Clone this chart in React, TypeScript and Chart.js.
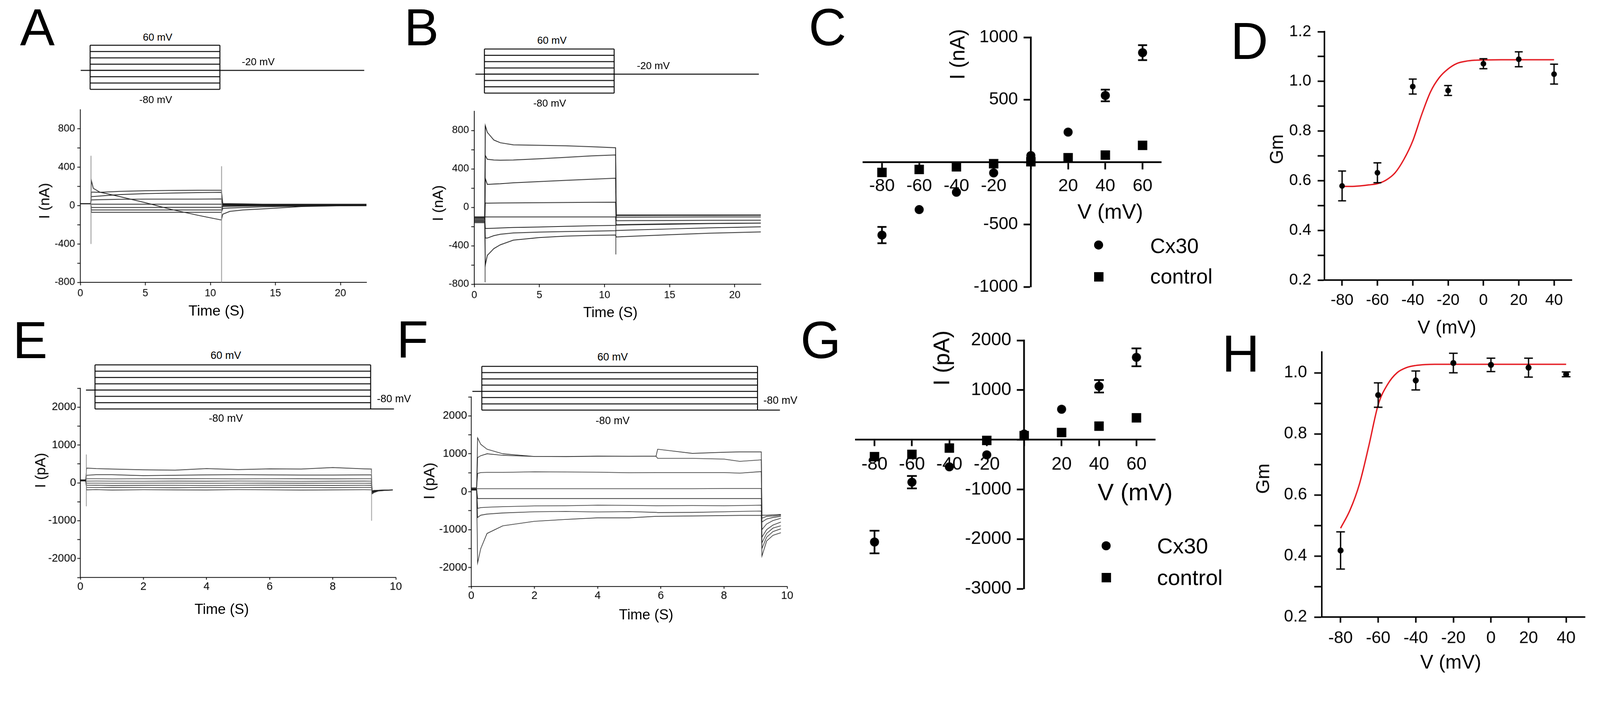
import React, { useEffect, useRef } from "react";
import { Chart, registerables } from "chart.js";

Chart.register(...registerables);

const FONT = '"Liberation Sans", Arial, Helvetica, sans-serif';
const INK = "#000000";
const TRACE = "#1c1c1c";
const GREY = "#8c8c8c";
const RED = "#e3141b";
const PAGE_W = 4244;
const PAGE_H = 1818;

// ======================= DATA =======================
// ---- A : current traces (nA) vs time (s)
const A_TIME = [0, 0.8, 0.85, 1, 1.5, 3, 5, 7, 9, 10.85, 10.95, 11.5, 12.5, 14, 17, 22];
const A_TRACE_1 = [20, 20, 140, 140, 138, 148, 155, 158, 160, 160, 20, 20, 18, 15, 15, 15];
const A_TRACE_2 = [20, 20, 95, 95, 100, 115, 125, 130, 135, 138, 15, 15, 15, 12, 12, 12];
const A_TRACE_3 = [20, 20, 60, 60, 62, 66, 68, 68, 68, 70, 10, 10, 10, 10, 10, 10];
const A_TRACE_4 = [20, 20, 15, 15, 15, 15, 15, 15, 15, 15, 5, 5, 5, 5, 5, 5];
const A_TRACE_5 = [20, 20, -20, -20, -20, -20, -20, -18, -18, -18, 0, 0, 0, 0, 0, 0];
const A_TRACE_6 = [20, 20, -45, -45, -45, -45, -45, -45, -45, -45, -10, -8, -5, -2, 0, 0];
const A_TRACE_7 = [20, 20, -70, -70, -70, -70, -70, -70, -70, -70, -30, -25, -20, -12, -5, 0];
const A_TRACE_8 = [20, 20, 260, 180, 140, 95, 30, -40, -100, -150, -90, -60, -45, -35, -10, 5];
const A_SPIKE_T = [0.82, 10.86];
const A_SPIKE_TOP = [520, 410];
const A_SPIKE_BOTTOM = [-400, -800];
const A_X_TICKS = [0, 5, 10, 15, 20];
const A_Y_TICKS = [-800, -600, -400, -200, 0, 200, 400, 600, 800];

// ---- B : current traces (nA) vs time (s)
const B_TIME = [0, 0.8, 0.85, 1, 1.5, 2, 3, 5, 7, 9, 10.85, 10.9, 12, 15, 18, 22];
const B_TRACE_1 = [-100, -100, 850, 780, 700, 672, 650, 645, 640, 630, 620, -79, -79, -79, -79, -79];
const B_TRACE_2 = [-110, -110, 540, 500, 492, 490, 492, 505, 520, 535, 545, -85, -85, -84, -84, -83];
const B_TRACE_3 = [-120, -120, 300, 238, 242, 245, 255, 268, 280, 292, 303, -102, -102, -101, -100, -100];
const B_TRACE_4 = [-130, -130, 45, 43, 44, 45, 46, 48, 50, 52, 53, -139, -138, -137, -135, -134];
const B_TRACE_5 = [-100, -100, -100, -100, -100, -100, -100, -100, -100, -100, -100, -181, -178, -172, -168, -164];
const B_TRACE_6 = [-140, -140, -220, -220, -218, -215, -210, -205, -198, -192, -188, -185, -182, -176, -170, -165];
const B_TRACE_7 = [-150, -150, -320, -320, -295, -280, -267, -258, -252, -248, -243, -241, -236, -225, -214, -203];
const B_TRACE_8 = [-160, -160, -600, -500, -430, -390, -341, -315, -300, -292, -288, -309, -302, -285, -270, -256];
const B_SPIKE_T = [0.83, 10.87];
const B_SPIKE_TOP = [850, 170];
const B_SPIKE_BOTTOM = [-780, -490];

// ---- protocols (mV levels)
const PROTO_LEVELS = [60, 40, 20, 0, -20, -40, -60, -80];
const PROTO_A_STEP = [0.754, 10.73];
const PROTO_A_HOLD = [0.03, 21.83];
const PROTO_B_STEP = [0.78, 10.74];
const PROTO_B_HOLD = [0.09, 21.85];
const PROTO_E_STEP = [0.466, 9.2];
const PROTO_E_HOLD = [0.18, 0.466];
const PROTO_E_POST = [9.2, 9.94];
const PROTO_F_STEP = [0.334, 9.06];
const PROTO_F_HOLD = [0.036, 0.334];
const PROTO_F_POST = [9.06, 9.77];
const PROTO_HOLD_MV = -20;
const PROTO_POST_MV = -80;

// ---- C : I-V (nA)
const C_V = [-80, -60, -40, -20, 0, 20, 40, 60];
const C_CX30 = [-585, -381, -242, -87, 52, 240, 534, 877];
const C_CX30_ERR = [65, 0, 0, 0, 0, 0, 47, 60];
const C_CONTROL = [-83, -59, -38, -13, 3, 35, 56, 134];
const C_X_TICKS = [-80, -60, -40, -20, 0, 20, 40, 60];
const C_Y_TICKS = [-1000, -500, 0, 500, 1000];

// ---- D : Gm vs V
const D_V = [-80, -60, -40, -20, 0, 20, 40];
const D_GM = [0.579, 0.632, 0.979, 0.963, 1.071, 1.089, 1.029];
const D_ERR = [0.06, 0.04, 0.03, 0.02, 0.02, 0.03, 0.04];
const D_FIT_V = [-80, -75, -70, -65, -60, -55, -50, -45, -40, -35, -30, -25, -20, -15, -10, -5, 0, 10, 20, 30, 40];
const D_FIT_GM = [0.577, 0.577, 0.579, 0.583, 0.588, 0.603, 0.632, 0.686, 0.76, 0.865, 0.957, 1.015, 1.05, 1.072, 1.081, 1.085, 1.086, 1.087, 1.087, 1.087, 1.087];
const D_X_TICKS = [-80, -60, -40, -20, 0, 20, 40];
const D_Y_TICKS = [0.2, 0.3, 0.4, 0.5, 0.6, 0.7, 0.8, 0.9, 1.0, 1.1, 1.2];

// ---- E : current traces (pA) vs time (s)
const E_TIME = [0, 0.17, 0.2, 0.5, 1, 2, 3, 4, 5, 6, 7, 8, 9, 9.22, 9.25, 9.3, 9.45, 9.65, 9.9];
const E_TRACE_1 = [80, 80, 390, 377, 365, 345, 335, 377, 350, 370, 365, 405, 370, 365, -290, -260, -215, -200, -190];
const E_TRACE_2 = [80, 80, 200, 215, 215, 190, 200, 210, 215, 210, 205, 205, 210, 210, -270, -245, -210, -198, -190];
const E_TRACE_3 = [70, 70, 110, 110, 105, 110, 108, 112, 105, 110, 108, 106, 110, 110, -250, -230, -205, -195, -188];
const E_TRACE_4 = [70, 70, 45, 48, 45, 42, 46, 44, 48, 45, 40, 44, 46, 45, -240, -222, -202, -193, -188];
const E_TRACE_5 = [60, 60, -10, -8, -12, -10, -8, -12, -10, -9, -11, -10, -12, -10, -230, -215, -200, -192, -187];
const E_TRACE_6 = [60, 60, -65, -62, -68, -66, -64, -70, -65, -62, -66, -68, -65, -66, -220, -210, -198, -190, -186];
const E_TRACE_7 = [50, 50, -120, -125, -118, -122, -128, -120, -124, -118, -122, -126, -120, -122, -215, -205, -196, -190, -186];
const E_TRACE_8 = [50, 50, -185, -180, -190, -182, -186, -188, -180, -184, -190, -186, -182, -185, -210, -200, -195, -190, -185];
const E_SPIKE_T = [0.19, 9.23];
const E_SPIKE_TOP = [750, 380];
const E_SPIKE_BOTTOM = [-620, -1000];
const EF_X_TICKS = [0, 2, 4, 6, 8, 10];
const EF_Y_TICKS = [-2500, -2000, -1500, -1000, -500, 0, 500, 1000, 1500, 2000, 2500];

// ---- F : current traces (pA) vs time (s)
const F_TIME = [0, 0.17, 0.2, 0.3, 0.5, 1, 2, 3, 4, 5, 5.85, 5.9, 7, 8, 8.5, 9.18, 9.2, 9.35, 9.55, 9.8];
const F_TRACE_1 = [100, 100, 1420, 1250, 1120, 1000, 930, 930, 940, 935, 940, 1120, 1010, 1040, 1050, 1050, -620, -620, -610, -600];
const F_TRACE_2 = [100, 100, 900, 950, 1000, 960, 930, 925, 935, 935, 935, 880, 880, 860, 800, 840, -700, -650, -640, -620];
const F_TRACE_3 = [100, 100, 480, 505, 510, 510, 525, 520, 515, 500, 505, 505, 505, 505, 490, 530, -800, -720, -680, -650];
const F_TRACE_4 = [80, 80, 80, 80, 80, 80, 80, 80, 80, 80, 80, 80, 80, 85, 85, 85, -1000, -850, -760, -700];
const F_TRACE_5 = [70, 70, -180, -180, -180, -180, -180, -180, -180, -180, -180, -180, -180, -180, -180, -180, -1200, -1000, -880, -800];
const F_TRACE_6 = [60, 60, -440, -420, -410, -395, -375, -370, -355, -360, -370, -370, -365, -370, -365, -355, -1350, -1100, -960, -900];
const F_TRACE_7 = [50, 50, -680, -620, -590, -560, -530, -520, -535, -525, -545, -550, -545, -530, -520, -510, -1500, -1200, -1050, -980];
const F_TRACE_8 = [40, 40, -1880, -1500, -1100, -900, -780, -730, -690, -690, -650, -650, -640, -630, -625, -625, -1700, -1300, -1150, -1080];

// ---- G : I-V (pA)
const G_V = [-80, -60, -40, -20, 0, 20, 40, 60];
const G_CX30 = [-2059, -855, -545, -305, 114, 614, 1077, 1659];
const G_CX30_ERR = [227, 125, 0, 0, 0, 0, 125, 180];
const G_CONTROL = [-341, -295, -168, -14, 82, 145, 273, 441];
const G_Y_TICKS = [-3000, -2000, -1000, 0, 1000, 2000];

// ---- H : Gm vs V
const H_V = [-80, -60, -40, -20, 0, 20, 40];
const H_GM = [0.418, 0.927, 0.975, 1.032, 1.026, 1.017, 0.995];
const H_ERR = [0.061, 0.04, 0.031, 0.032, 0.022, 0.031, 0.008];
const H_FIT_V = [-80, -75, -70, -65, -60, -55, -50, -45, -40, -35, -30, -20, -10, 0, 20, 40];
const H_FIT_GM = [0.491, 0.55, 0.635, 0.76, 0.895, 0.962, 1.0, 1.017, 1.024, 1.027, 1.028, 1.028, 1.028, 1.028, 1.028, 1.028];
const H_Y_TICKS = [0.2, 0.3, 0.4, 0.5, 0.6, 0.7, 0.8, 0.9, 1.0];

// ======================= LAYOUT =======================
type Area = { L: number; T: number; R: number; B: number };
type Box = { left: number; top: number; width: number; height: number };

const A_AREA: Area = { L: 213, T: 291, R: 972, B: 749 };
const A_PROTO: Area = { L: 213, T: 120, R: 972, B: 237 };
const B_AREA: Area = { L: 1258, T: 295, R: 2018, B: 754 };
const B_PROTO: Area = { L: 1258, T: 130, R: 2018, B: 247 };
const C_AREA: Area = { L: 2290, T: 99, R: 3080, B: 761 };
const D_AREA: Area = { L: 3513, T: 84, R: 4169, B: 743 };
const E_AREA: Area = { L: 213, T: 1030, R: 1050, B: 1532 };
const E_PROTO: Area = { L: 213, T: 968, R: 1050, B: 1085 };
const F_AREA: Area = { L: 1250, T: 1053, R: 2088, B: 1556 };
const F_PROTO: Area = { L: 1250, T: 972, R: 2088, B: 1088 };
const G_AREA: Area = { L: 2270, T: 903, R: 3064, B: 1562 };
const H_AREA: Area = { L: 3506, T: 934, R: 4204, B: 1637 };

function boxOf(a: Area, pl: number, pt: number, pr: number, pb: number): Box {
  return { left: a.L - pl, top: a.T - pt, width: a.R - a.L + pl + pr, height: a.B - a.T + pt + pb };
}

type AxisSpec = {
  min: number; max: number; ticks: number[]; label: (v: number) => string;
  font: number; tl: number; pad: number; lw: number; pos?: any; hideLabels?: boolean;
};

function axis(s: AxisSpec, horizontal: boolean, fixed?: number) {
  const o: any = {
    type: "linear",
    min: s.min,
    max: s.max,
    bounds: "data",
    position: s.pos ?? (horizontal ? "bottom" : "left"),
    afterBuildTicks: (sc: any) => { sc.ticks = s.ticks.map((v) => ({ value: v })); },
    ticks: {
      display: !s.hideLabels,
      autoSkip: false, maxRotation: 0, minRotation: 0, padding: s.pad, color: INK,
      font: { family: FONT, size: s.font }, callback: (v: number) => s.label(v),
    },
    grid: { display: true, drawOnChartArea: false, drawTicks: true, tickLength: s.tl, tickWidth: s.lw, tickColor: INK, color: INK },
    border: { display: true, color: INK, width: s.lw },
  };
  if (fixed !== undefined) {
    o.afterFit = horizontal ? (sc: any) => { sc.height = fixed; } : (sc: any) => { sc.width = fixed; };
  }
  return o;
}

const baseOptions = (padding: any) => ({
  responsive: false,
  animation: false,
  events: [],
  layout: { padding },
  plugins: { legend: { display: false }, tooltip: { enabled: false }, title: { display: false } },
});

const seg = (x0: number, y0: number, x1: number, y1: number, color: string, w: number) => ({
  data: [{ x: x0, y: y0 }, { x: x1, y: y1 }],
  showLine: true, borderColor: color, borderWidth: w, pointRadius: 0, clip: false,
});

function traceSets(time: number[], traces: number[][], color: string, w: number) {
  return traces.map((vals) => ({
    data: time.map((t, i) => ({ x: t, y: vals[i] })),
    showLine: true, borderColor: color, borderWidth: w, pointRadius: 0, tension: 0,
  }));
}

function spikeSets(ts: number[], tops: number[], bottoms: number[], color: string, w: number) {
  return ts.map((t, i) => seg(t, tops[i], t, bottoms[i], color, w));
}

function makeErrorBars(xs: number[], ys: number[], err: number[], cap: number, w: number) {
  return {
    id: "errorBars",
    afterDatasetsDraw(chart: any) {
      const { ctx } = chart;
      const sx = chart.scales.x;
      const sy = chart.scales.y;
      ctx.save();
      ctx.strokeStyle = INK;
      ctx.lineWidth = w;
      xs.forEach((xv, i) => {
        const e = err[i];
        if (!e) return;
        const px = sx.getPixelForValue(xv);
        const p1 = sy.getPixelForValue(ys[i] + e);
        const p2 = sy.getPixelForValue(ys[i] - e);
        ctx.beginPath();
        ctx.moveTo(px, p1); ctx.lineTo(px, p2);
        ctx.moveTo(px - cap / 2, p1); ctx.lineTo(px + cap / 2, p1);
        ctx.moveTo(px - cap / 2, p2); ctx.lineTo(px + cap / 2, p2);
        ctx.stroke();
      });
      ctx.restore();
    },
  };
}

// y tick labels for an axis crossing at x = 0 (drawn left of the tick marks)
function makeCrossYLabels(s: AxisSpec) {
  return {
    id: "crossYLabels",
    afterDraw(chart: any) {
      const { ctx } = chart;
      const sx = chart.scales.x;
      const sy = chart.scales.y;
      const x0 = sx.getPixelForValue(0) - s.lw / 2 - s.tl - s.pad;
      ctx.save();
      ctx.fillStyle = INK;
      ctx.font = `${s.font}px ${FONT}`;
      ctx.textAlign = "right";
      ctx.textBaseline = "middle";
      s.ticks.forEach((v) => {
        const t = s.label(v);
        if (t) ctx.fillText(t, x0, sy.getPixelForValue(v));
      });
      ctx.restore();
    },
  };
}

const hiddenScale = (min: number, max: number) => ({ type: "linear", display: false, min, max, bounds: "data" });

// ======================= CONFIG BUILDERS =======================
const STD_YW = 130;
const STD_XH = 100;
const STD_PT = 40;
const STD_PR = 40;

function traceConfig(xs: AxisSpec, ys: AxisSpec, datasets: any[]) {
  return {
    type: "scatter",
    data: { datasets },
    options: {
      ...baseOptions({ left: 0, top: STD_PT, right: STD_PR, bottom: 0 }),
      scales: { x: axis(xs, true, STD_XH), y: axis(ys, false, STD_YW) },
    },
  };
}

function protoConfig(xmax: number, step: number[], hold: number[], holdMv: number, post?: number[], postMv?: number) {
  const top = Math.max(...PROTO_LEVELS);
  const bot = Math.min(...PROTO_LEVELS);
  const W = 2.5;
  const ds: any[] = PROTO_LEVELS.map((v) => seg(step[0], v, step[1], v, INK, W));
  ds.push(seg(step[0], top, step[0], bot, INK, W));
  ds.push(seg(step[1], top, step[1], bot, INK, W));
  ds.push(seg(hold[0], holdMv, hold[1], holdMv, INK, W));
  if (post && postMv !== undefined) ds.push(seg(post[0], postMv, post[1], postMv, INK, W));
  return {
    type: "scatter",
    data: { datasets: ds },
    options: {
      ...baseOptions(6),
      scales: { x: hiddenScale(0, xmax), y: hiddenScale(bot, top) },
    },
  };
}

const lbl = (v: number) => String(v);
const everyN = (n: number) => (v: number) => (Math.round(v) % n === 0 ? String(v) : "");
const noZero = (v: number) => (v === 0 ? "" : String(v));
const evenTenth = (v: number) => (Math.round(v * 10) % 2 === 0 ? v.toFixed(1) : "");

function ivConfig(xs: AxisSpec, ys: AxisSpec, v: number[], cx: number[], err: number[], ctl: number[], cap: number) {
  return {
    type: "scatter",
    data: {
      datasets: [
        { data: v.map((x, i) => ({ x, y: cx[i] })), pointStyle: "circle", pointRadius: 12, backgroundColor: INK, borderColor: INK, borderWidth: 0 },
        { data: v.map((x, i) => ({ x, y: ctl[i] })), pointStyle: "rect", pointRadius: 17.7, backgroundColor: INK, borderColor: INK, borderWidth: 0 },
      ],
    },
    options: {
      ...baseOptions(50),
      scales: { x: axis(xs, true), y: axis(ys, false) },
    },
    plugins: [makeErrorBars(v, cx, err, cap, 4.5), makeCrossYLabels(ys)],
  };
}

function gmConfig(xs: AxisSpec, ys: AxisSpec, v: number[], gm: number[], err: number[], fv: number[], fg: number[], r: number, cap: number) {
  return {
    type: "scatter",
    data: {
      datasets: [
        { data: v.map((x, i) => ({ x, y: gm[i] })), pointStyle: "circle", pointRadius: r, backgroundColor: INK, borderColor: INK, borderWidth: 0 },
        { data: fv.map((x, i) => ({ x, y: fg[i] })), showLine: true, pointRadius: 0, borderColor: RED, borderWidth: 3.5, cubicInterpolationMode: "monotone" },
      ],
    },
    options: {
      ...baseOptions({ left: 0, top: 60, right: 40, bottom: 0 }),
      scales: { x: axis(xs, true, STD_XH), y: axis(ys, false, 150) },
    },
    plugins: [makeErrorBars(v, gm, err, cap, 3.5)],
  };
}

// ======================= COMPONENTS =======================
function ChartCanvas({ b, build }: { b: Box; build: () => any }) {
  const ref = useRef<HTMLCanvasElement | null>(null);
  useEffect(() => {
    if (!ref.current) return;
    const chart = new Chart(ref.current, build());
    return () => chart.destroy();
  }, []);
  return (
    <canvas
      ref={ref}
      width={b.width}
      height={b.height}
      style={{ position: "absolute", left: b.left, top: b.top, width: b.width, height: b.height }}
    />
  );
}

function Txt({ x, y, s, t, rot, left }: { x: number; y: number; s: number; t: string; rot?: boolean; left?: boolean }) {
  return (
    <div
      style={{
        position: "absolute", left: x, top: y,
        transform: `translate(${left ? "0" : "-50%"},-50%)${rot ? " rotate(-90deg)" : ""}`,
        fontFamily: FONT, fontSize: s, lineHeight: 1, whiteSpace: "nowrap", color: INK,
      }}
    >
      {t}
    </div>
  );
}

function Mark({ x, y, size, round }: { x: number; y: number; size: number; round?: boolean }) {
  return (
    <div
      style={{
        position: "absolute", left: x - size / 2, top: y - size / 2, width: size, height: size,
        background: INK, borderRadius: round ? "50%" : 0,
      }}
    />
  );
}

// axis specs
const AB_X: AxisSpec = { min: 0, max: 22, ticks: A_X_TICKS, label: lbl, font: 27, tl: 8, pad: 5, lw: 2 };
const AB_Y: AxisSpec = { min: -800, max: 1000, ticks: A_Y_TICKS, label: everyN(400), font: 27, tl: 8, pad: 6, lw: 2 };
const EF_X: AxisSpec = { min: 0, max: 10, ticks: EF_X_TICKS, label: lbl, font: 29, tl: 6, pad: 2, lw: 2 };
const EF_Y: AxisSpec = { min: -2500, max: 2500, ticks: EF_Y_TICKS, label: everyN(1000), font: 29, tl: 8, pad: 3, lw: 2 };
const C_X: AxisSpec = { min: -90, max: 70, ticks: C_X_TICKS, label: noZero, font: 47, tl: 17, pad: 19, lw: 4.5, pos: { y: 0 } };
const C_Y: AxisSpec = { min: -1000, max: 1000, ticks: C_Y_TICKS, label: noZero, font: 46, tl: 17, pad: 15, lw: 4.5, pos: { x: 0 }, hideLabels: true };
const G_X: AxisSpec = { min: -90, max: 70, ticks: C_X_TICKS, label: noZero, font: 48, tl: 15, pad: 22, lw: 4.5, pos: { y: 0 } };
const G_Y: AxisSpec = { min: -3000, max: 2000, ticks: G_Y_TICKS, label: noZero, font: 48, tl: 17, pad: 15, lw: 4.5, pos: { x: 0 }, hideLabels: true };
const D_X: AxisSpec = { min: -90, max: 50, ticks: D_X_TICKS, label: lbl, font: 42, tl: 15, pad: 14, lw: 4 };
const D_Y: AxisSpec = { min: 0.2, max: 1.2, ticks: D_Y_TICKS, label: evenTenth, font: 42, tl: 18, pad: 17, lw: 4 };
const H_X: AxisSpec = { min: -90, max: 50, ticks: D_X_TICKS, label: lbl, font: 45, tl: 15, pad: 15, lw: 4 };
const H_Y: AxisSpec = { min: 0.2, max: 1.068, ticks: H_Y_TICKS, label: evenTenth, font: 44, tl: 20, pad: 19, lw: 4 };

const stdBox = (a: Area) => boxOf(a, STD_YW, STD_PT, STD_PR, STD_XH);
const protoBox = (a: Area) => boxOf(a, 6, 6, 6, 6);
const ivBox = (a: Area) => boxOf(a, 50, 50, 50, 50);
const gmBox = (a: Area) => boxOf(a, 150, 60, 40, STD_XH);

export default function App() {
  const vw = typeof window !== "undefined" ? (document.documentElement.clientWidth || window.innerWidth || PAGE_W) : PAGE_W;
  const scale = vw / PAGE_W;

  const charts: { b: Box; build: () => any }[] = [
    // A
    { b: protoBox(A_PROTO), build: () => protoConfig(22, PROTO_A_STEP, PROTO_A_HOLD, PROTO_HOLD_MV) },
    {
      b: stdBox(A_AREA),
      build: () => traceConfig(AB_X, AB_Y, [
        ...spikeSets(A_SPIKE_T, A_SPIKE_TOP, A_SPIKE_BOTTOM, GREY, 2),
        ...traceSets(A_TIME, [A_TRACE_1, A_TRACE_2, A_TRACE_3, A_TRACE_4, A_TRACE_5, A_TRACE_6, A_TRACE_7, A_TRACE_8], TRACE, 2),
      ]),
    },
    // B
    { b: protoBox(B_PROTO), build: () => protoConfig(22, PROTO_B_STEP, PROTO_B_HOLD, PROTO_HOLD_MV) },
    {
      b: stdBox(B_AREA),
      build: () => traceConfig(AB_X, AB_Y, [
        ...spikeSets(B_SPIKE_T, B_SPIKE_TOP, B_SPIKE_BOTTOM, TRACE, 1.6),
        ...traceSets(B_TIME, [B_TRACE_1, B_TRACE_2, B_TRACE_3, B_TRACE_4, B_TRACE_5, B_TRACE_6, B_TRACE_7, B_TRACE_8], TRACE, 2),
      ]),
    },
    // C
    { b: ivBox(C_AREA), build: () => ivConfig(C_X, C_Y, C_V, C_CX30, C_CX30_ERR, C_CONTROL, 24) },
    // D
    { b: gmBox(D_AREA), build: () => gmConfig(D_X, D_Y, D_V, D_GM, D_ERR, D_FIT_V, D_FIT_GM, 7.5, 21) },
    // E
    { b: protoBox(E_PROTO), build: () => protoConfig(10, PROTO_E_STEP, PROTO_E_HOLD, PROTO_HOLD_MV, PROTO_E_POST, PROTO_POST_MV) },
    {
      b: stdBox(E_AREA),
      build: () => traceConfig(EF_X, EF_Y, [
        ...spikeSets(E_SPIKE_T, E_SPIKE_TOP, E_SPIKE_BOTTOM, GREY, 1.8),
        ...traceSets(E_TIME, [E_TRACE_1, E_TRACE_2, E_TRACE_3, E_TRACE_4, E_TRACE_5, E_TRACE_6, E_TRACE_7, E_TRACE_8], TRACE, 1.6),
      ]),
    },
    // F
    { b: protoBox(F_PROTO), build: () => protoConfig(10, PROTO_F_STEP, PROTO_F_HOLD, PROTO_HOLD_MV, PROTO_F_POST, PROTO_POST_MV) },
    {
      b: stdBox(F_AREA),
      build: () => traceConfig(EF_X, EF_Y,
        traceSets(F_TIME, [F_TRACE_1, F_TRACE_2, F_TRACE_3, F_TRACE_4, F_TRACE_5, F_TRACE_6, F_TRACE_7, F_TRACE_8], TRACE, 1.6)),
    },
    // G
    { b: ivBox(G_AREA), build: () => ivConfig(G_X, G_Y, G_V, G_CX30, G_CX30_ERR, G_CONTROL, 26) },
    // H
    { b: gmBox(H_AREA), build: () => gmConfig(H_X, H_Y, H_V, H_GM, H_ERR, H_FIT_V, H_FIT_GM, 8, 23) },
  ];

  return (
    <div
      style={{
        position: "absolute", left: 0, top: 0, width: PAGE_W, height: PAGE_H, background: "#fff",
        overflow: "hidden", transform: `scale(${scale})`, transformOrigin: "0 0",
      }}
    >
      {charts.map((c, i) => (
        <ChartCanvas key={i} b={c.b} build={c.build} />
      ))}

      {/* panel letters */}
      <Txt x={99} y={72} s={138} t="A" />
      <Txt x={1118} y={72} s={138} t="B" />
      <Txt x={2195} y={72} s={138} t="C" />
      <Txt x={3314} y={108} s={138} t="D" />
      <Txt x={80} y={902} s={138} t="E" />
      <Txt x={1094} y={900} s={138} t="F" />
      <Txt x={2177} y={902} s={138} t="G" />
      <Txt x={3291} y={938} s={138} t="H" />

      {/* protocol labels */}
      <Txt x={418} y={99} s={27} t="60 mV" />
      <Txt x={413} y={265} s={27} t="-80 mV" />
      <Txt x={685} y={165} s={27} t="-20 mV" />
      <Txt x={1464} y={108} s={27} t="60 mV" />
      <Txt x={1458} y={274} s={27} t="-80 mV" />
      <Txt x={1733} y={175} s={27} t="-20 mV" />
      <Txt x={599} y={943} s={28} t="60 mV" />
      <Txt x={599} y={1110} s={28} t="-80 mV" />
      <Txt x={1045} y={1058} s={28} t="-80 mV" />
      <Txt x={1625} y={947} s={28} t="60 mV" />
      <Txt x={1625} y={1116} s={28} t="-80 mV" />
      <Txt x={2070} y={1062} s={28} t="-80 mV" />

      {/* axis titles */}
      <Txt x={574} y={824} s={39} t="Time (S)" />
      <Txt x={117} y={533} s={39} t="I (nA)" rot />
      <Txt x={1619} y={828} s={38} t="Time (S)" />
      <Txt x={1161} y={539} s={39} t="I (nA)" rot />
      <Txt x={2540} y={144} s={55} t="I (nA)" rot />
      <Txt x={2945} y={561} s={56} t="V (mV)" />
      <Txt x={3387} y={396} s={49} t="Gm" rot />
      <Txt x={3838} y={868} s={50} t="V (mV)" />
      <Txt x={588} y={1616} s={38} t="Time (S)" />
      <Txt x={107} y={1248} s={38} t="I (pA)" rot />
      <Txt x={1714} y={1630} s={38} t="Time (S)" />
      <Txt x={1138} y={1276} s={40} t="I (pA)" rot />
      <Txt x={2498} y={950} s={60} t="I (pA)" rot />
      <Txt x={3011} y={1305} s={64} t="V (mV)" />
      <Txt x={3350} y={1270} s={50} t="Gm" rot />
      <Txt x={3848} y={1756} s={52} t="V (mV)" />

      {/* legends */}
      <Mark x={2914} y={650} size={24} round />
      <Txt x={3051} y={653} s={55} t="Cx30" left />
      <Mark x={2914} y={734} size={25} />
      <Txt x={3051} y={734} s={55} t="control" left />
      <Mark x={2934} y={1448} size={24} round />
      <Txt x={3069} y={1448} s={58} t="Cx30" left />
      <Mark x={2934} y={1532} size={25} />
      <Txt x={3069} y={1532} s={58} t="control" left />
    </div>
  );
}
